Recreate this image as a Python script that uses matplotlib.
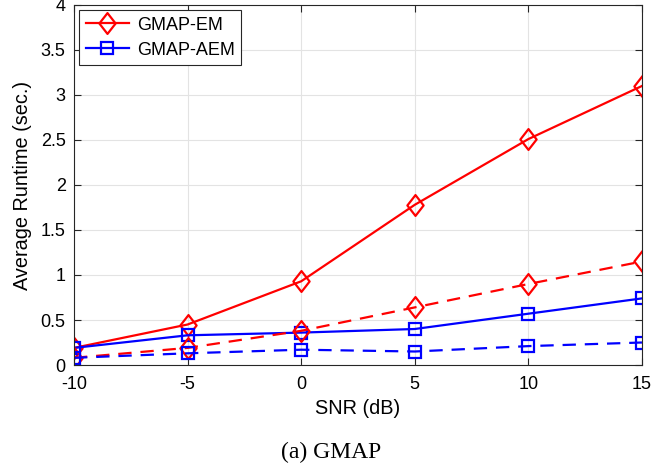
import matplotlib.pyplot as plt
from matplotlib.path import Path
import numpy as np

snr = np.array([-10, -5, 0, 5, 10, 15])
em_solid = np.array([0.19, 0.45, 0.93, 1.78, 2.51, 3.10])
em_dashed = np.array([0.08, 0.19, 0.38, 0.64, 0.90, 1.15])
aem_solid = np.array([0.19, 0.33, 0.36, 0.40, 0.57, 0.74])
aem_dashed = np.array([0.08, 0.13, 0.17, 0.15, 0.21, 0.25])

plt.rcParams['font.family'] = ['Liberation Sans', 'DejaVu Sans']
plt.rcParams['axes.unicode_minus'] = False

# slightly tall diamond like MATLAB's
diamond = Path([(0, 1), (0.78, 0), (0, -1), (-0.78, 0), (0, 1)],
               [Path.MOVETO, Path.LINETO, Path.LINETO, Path.LINETO, Path.CLOSEPOLY])

fig = plt.figure(figsize=(6.69, 4.67), dpi=100)
ax = fig.add_axes([0.1106, 0.2184, 0.849, 0.771])

kw = dict(lw=1.6, mfc='none', mew=1.6)
ax.plot(snr, em_solid, '-', marker=diamond, color='red', ms=15, label='GMAP-EM', **kw)
ax.plot(snr, aem_solid, '-s', color='blue', ms=9, label='GMAP-AEM', **kw)
ax.plot(snr, em_dashed, '--', marker=diamond, color='red', ms=15, dashes=(6, 4), **kw)
ax.plot(snr, aem_dashed, '--s', color='blue', ms=9, dashes=(6, 4), **kw)

ax.set_xlim(-10, 15)
ax.set_ylim(0, 4)
ax.set_xticks([-10, -5, 0, 5, 10, 15])
ax.set_yticks(np.arange(0, 4.01, 0.5))
ax.set_yticklabels(['0', '0.5', '1', '1.5', '2', '2.5', '3', '3.5', '4'])
ax.grid(True, color='#e3e3e3', lw=0.8)
ax.set_axisbelow(True)
ax.tick_params(direction='in', top=True, right=True, labelsize=13, length=5, color='#262626')
ax.tick_params(axis='x', pad=8)
ax.tick_params(axis='y', pad=6)
for s in ax.spines.values():
    s.set_color('#262626')
    s.set_linewidth(0.8)

ax.set_xlabel('SNR (dB)', fontsize=14.3, labelpad=4)
ax.set_ylabel('Average Runtime (sec.)', fontsize=14.3, labelpad=6)

leg = ax.legend(loc='upper left', fontsize=13, fancybox=False, framealpha=1,
                edgecolor='#262626', borderaxespad=0.3, handlelength=2.4,
                borderpad=0.35, labelspacing=0.45, handletextpad=0.45)
leg.get_frame().set_linewidth(0.8)

fig.text(0.495, 0.032, '(a) GMAP', fontsize=17, family=['Liberation Serif', 'DejaVu Serif'],
         ha='center', va='center')

fig.savefig('out.png', dpi=100)
